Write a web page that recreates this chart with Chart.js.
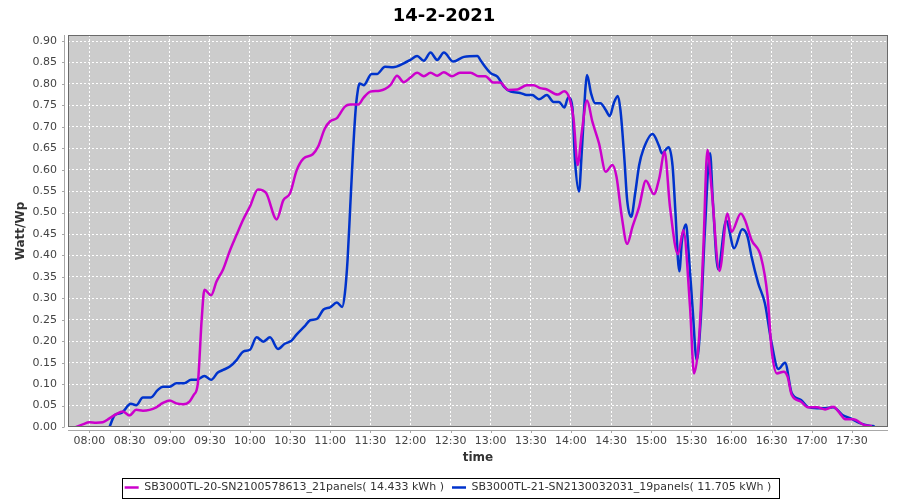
<!DOCTYPE html>
<html>
<head>
<meta charset="utf-8">
<script src="https://cdn.jsdelivr.net/npm/chart.js@4.4.1/dist/chart.umd.min.js"></script>
<style>
  html, body { margin: 0; padding: 0; background: #fff; }
  #wrap { width: 900px; height: 500px; }
</style>
</head>
<body>
<div id="wrap"><canvas id="powerChart" width="900" height="500"></canvas></div>
<script>
const chartTitle = '14-2-2021';
const yTitle = 'Watt/Wp';
const xTitle = 'time';
const xTickTimes = ['08:00', '08:30', '09:00', '09:30', '10:00', '10:30', '11:00', '11:30', '12:00', '12:30',
    '13:00', '13:30', '14:00', '14:30', '15:00', '15:30', '16:00', '16:30', '17:00', '17:30'];

const label20 = 'SB3000TL-20-SN2100578613_21panels( 14.433 kWh )';
const label21 = 'SB3000TL-21-SN2130032031_19panels( 11.705 kWh )';

const times20 = ['07:50', '07:55', '08:00', '08:05', '08:10', '08:15', '08:20', '08:25', '08:30', '08:35',
    '08:40', '08:45', '08:50', '08:55', '09:00', '09:05', '09:10', '09:15', '09:18', '09:21',
    '09:24', '09:26', '09:31', '09:35', '09:40', '09:45', '09:50', '09:55', '10:00', '10:06',
    '10:12', '10:20', '10:25', '10:30', '10:35', '10:40', '10:47', '10:51', '10:56', '11:00',
    '11:05', '11:11', '11:15', '11:21', '11:25', '11:30', '11:37', '11:45', '11:50', '11:55',
    '12:00', '12:05', '12:10', '12:15', '12:20', '12:25', '12:31', '12:37', '12:45', '12:51',
    '12:56', '13:02', '13:07', '13:13', '13:20', '13:27', '13:32', '13:37', '13:42', '13:50',
    '13:55', '13:59', '14:02', '14:05', '14:08', '14:12', '14:16', '14:21', '14:26', '14:31',
    '14:34', '14:38', '14:42', '14:46', '14:51', '14:56', '15:02', '15:06', '15:10', '15:14',
    '15:20', '15:24', '15:29', '15:32', '15:36', '15:39', '15:42', '15:45', '15:51', '15:57',
    '16:00', '16:07', '16:10', '16:15', '16:22', '16:27', '16:30', '16:34', '16:39', '16:42',
    '16:45', '16:52', '16:57', '17:04', '17:10', '17:16', '17:21', '17:25', '17:31', '17:39',
    '17:45'];
const watt20 = [0.000, 0.006, 0.011, 0.010, 0.011, 0.020, 0.030, 0.036, 0.027, 0.040,
    0.038, 0.040, 0.046, 0.056, 0.062, 0.055, 0.053, 0.060, 0.075, 0.100,
    0.254, 0.320, 0.307, 0.339, 0.368, 0.411, 0.448, 0.484, 0.514, 0.554,
    0.546, 0.484, 0.529, 0.545, 0.599, 0.626, 0.636, 0.654, 0.696, 0.713,
    0.720, 0.747, 0.752, 0.752, 0.768, 0.782, 0.784, 0.797, 0.819, 0.804,
    0.815, 0.826, 0.818, 0.826, 0.819, 0.827, 0.818, 0.826, 0.826, 0.818,
    0.818, 0.803, 0.803, 0.786, 0.787, 0.797, 0.797, 0.790, 0.787, 0.775,
    0.783, 0.765, 0.716, 0.611, 0.685, 0.761, 0.712, 0.661, 0.595, 0.611,
    0.584, 0.490, 0.427, 0.467, 0.514, 0.574, 0.543, 0.580, 0.642, 0.514,
    0.403, 0.459, 0.280, 0.125, 0.218, 0.420, 0.646, 0.560, 0.364, 0.498,
    0.455, 0.498, 0.483, 0.436, 0.397, 0.304, 0.180, 0.125, 0.129, 0.117,
    0.075, 0.059, 0.046, 0.046, 0.041, 0.047, 0.032, 0.018, 0.018, 0.005,
    0.002];

const times21 = ['08:15', '08:19', '08:24', '08:31', '08:35', '08:40', '08:46', '08:51', '08:55', '09:00',
    '09:05', '09:11', '09:16', '09:20', '09:26', '09:31', '09:36', '09:40', '09:45', '09:50',
    '09:55', '10:00', '10:05', '10:10', '10:15', '10:21', '10:26', '10:31', '10:35', '10:41',
    '10:45', '10:50', '10:55', '11:00', '11:05', '11:09', '11:11', '11:13', '11:15', '11:17',
    '11:19', '11:20', '11:22', '11:25', '11:31', '11:35', '11:41', '11:47', '11:55', '12:00',
    '12:05', '12:10', '12:15', '12:20', '12:25', '12:32', '12:40', '12:50', '12:53', '13:00',
    '13:05', '13:10', '13:15', '13:22', '13:27', '13:31', '13:36', '13:42', '13:47', '13:51',
    '13:55', '13:58', '14:01', '14:03', '14:06', '14:08', '14:11', '14:12', '14:15', '14:18',
    '14:22', '14:26', '14:29', '14:32', '14:35', '14:37', '14:40', '14:42', '14:45', '14:48',
    '14:51', '14:54', '15:01', '15:06', '15:08', '15:13', '15:16', '15:18', '15:21', '15:23',
    '15:26', '15:28', '15:31', '15:34', '15:37', '15:40', '15:44', '15:46', '15:50', '15:56',
    '16:02', '16:08', '16:12', '16:15', '16:20', '16:25', '16:30', '16:35', '16:40', '16:45',
    '16:52', '16:57', '17:04', '17:10', '17:16', '17:23', '17:29', '17:36', '17:43', '17:47'];
const watt21 = [0.000, 0.028, 0.033, 0.054, 0.051, 0.069, 0.069, 0.086, 0.094, 0.094,
    0.102, 0.102, 0.110, 0.110, 0.119, 0.110, 0.127, 0.133, 0.141, 0.156,
    0.176, 0.180, 0.209, 0.199, 0.209, 0.182, 0.194, 0.201, 0.216, 0.235,
    0.249, 0.252, 0.274, 0.279, 0.290, 0.280, 0.312, 0.390, 0.514, 0.638,
    0.739, 0.770, 0.801, 0.797, 0.823, 0.823, 0.840, 0.839, 0.848, 0.856,
    0.865, 0.854, 0.873, 0.856, 0.873, 0.852, 0.863, 0.865, 0.852, 0.825,
    0.817, 0.793, 0.782, 0.779, 0.774, 0.774, 0.764, 0.774, 0.758, 0.758,
    0.745, 0.768, 0.747, 0.622, 0.549, 0.638, 0.797, 0.821, 0.778, 0.755,
    0.755, 0.739, 0.725, 0.755, 0.772, 0.739, 0.622, 0.529, 0.490, 0.545,
    0.611, 0.646, 0.683, 0.654, 0.638, 0.652, 0.607, 0.506, 0.363, 0.436,
    0.472, 0.405, 0.273, 0.156, 0.250, 0.452, 0.638, 0.530, 0.368, 0.481,
    0.417, 0.461, 0.444, 0.397, 0.335, 0.288, 0.195, 0.135, 0.150, 0.079,
    0.063, 0.047, 0.044, 0.044, 0.046, 0.028, 0.020, 0.009, 0.003, 0.002];

const toMin = s => { const [h, m] = s.split(':').map(Number); return h * 60 + m; };
const toHHMM = v => String(Math.floor(v / 60)).padStart(2, '0') + ':' + String(v % 60).padStart(2, '0');
const pairs = (ts, vs) => ts.map((t, i) => ({ x: toMin(t), y: vs[i] }));

const FONT = 'DejaVu Sans';
const LEG_DX = 4, LEG_DY = 3;

// grey plot area, frame and offset axis lines like the original
const plotFrame = {
    id: 'plotFrame',
    afterLayout(chart) {
        // legend sits a little lower and to the right in the original
        chart.legend.top += LEG_DY;
        chart.legend.bottom += LEG_DY;
        chart.legend.left += LEG_DX;
        chart.legend.right += LEG_DX;
    },
    beforeDraw(chart) {
        const { ctx, chartArea: a } = chart;
        ctx.save();
        ctx.fillStyle = '#cccccc';
        ctx.fillRect(a.left, a.top, a.right - a.left, a.bottom - a.top);
        ctx.restore();
    },
    afterDraw(chart) {
        const { ctx, chartArea: a, scales } = chart;
        ctx.save();
        ctx.lineWidth = 1;
        ctx.strokeStyle = '#6a6a6a';
        ctx.strokeRect(a.left + 0.5, a.top + 0.5, a.right - a.left - 1, a.bottom - a.top - 1);

        ctx.strokeStyle = '#a8a8a8';
        ctx.beginPath();
        ctx.moveTo(a.left - 3.5, a.top);
        ctx.lineTo(a.left - 3.5, a.bottom);
        scales.y.ticks.forEach(t => {
            const y = Math.round(scales.y.getPixelForValue(t.value)) + 0.5;
            ctx.moveTo(a.left - 6, y);
            ctx.lineTo(a.left - 3.5, y);
        });
        ctx.moveTo(a.left, a.bottom + 3.5);
        ctx.lineTo(a.right, a.bottom + 3.5);
        scales.x.ticks.forEach(t => {
            const x = Math.round(scales.x.getPixelForValue(t.value)) + 0.5;
            ctx.moveTo(x, a.bottom + 3.5);
            ctx.lineTo(x, a.bottom + 6);
        });
        ctx.stroke();

        // box round the legend (hit boxes already follow the shifted legend)
        const lg = chart.legend;
        const boxes = lg.legendHitBoxes;
        if (boxes && boxes.length) {
            const last = boxes[boxes.length - 1];
            const l = boxes[0].left - 3, r = last.left + last.width + 7;
            const mid = lg.top + lg.options.labels.padding + boxes[0].height / 2;
            ctx.strokeStyle = '#000';
            ctx.strokeRect(Math.round(l) + 0.5, Math.round(mid - 10) + 0.5, Math.round(r - l), 20);
        }
        ctx.restore();
    }
};

new Chart(document.getElementById('powerChart'), {
    type: 'line',
    data: {
        datasets: [{
            label: label20,
            data: pairs(times20, watt20),
            borderColor: '#cc00cc',
            backgroundColor: '#cc00cc',
            borderWidth: 2.5,
            pointRadius: 0,
            cubicInterpolationMode: 'monotone'
        }, {
            label: label21,
            data: pairs(times21, watt21),
            borderColor: '#0033cc',
            backgroundColor: '#0033cc',
            borderWidth: 2.5,
            pointRadius: 0,
            cubicInterpolationMode: 'monotone'
        }]
    },
    options: {
        responsive: false,
        animation: false,
        layout: { padding: { left: 0, right: 12, top: 0, bottom: 0 } },
        plugins: {
            title: {
                display: true,
                text: chartTitle,
                color: '#000',
                font: { family: FONT, size: 18, weight: 'bold' },
                padding: { top: 6, bottom: 7.4 }
            },
            legend: {
                position: 'bottom',
                labels: {
                    usePointStyle: true,
                    pointStyle: 'line',
                    pointStyleWidth: 14,
                    padding: 8,
                    color: '#333',
                    font: { family: FONT, size: 11 }
                }
            },
            tooltip: { enabled: false }
        },
        scales: {
            x: {
                type: 'linear',
                min: 464,
                max: 1077,
                afterBuildTicks: scale => { scale.ticks = xTickTimes.map(t => ({ value: toMin(t) })); },
                afterFit: scale => { scale.height = 44; },
                ticks: {
                    callback: v => toHHMM(v),
                    color: '#444',
                    padding: 8,
                    maxRotation: 0,
                    autoSkip: false,
                    font: { family: FONT, size: 11 }
                },
                grid: { color: '#ffffff', lineWidth: 1, drawTicks: false },
                border: { display: false, dash: [2, 2] },
                title: {
                    display: true,
                    text: xTitle,
                    color: '#333',
                    font: { family: FONT, size: 12, weight: 'bold' },
                    padding: { top: 0, bottom: 6 }
                }
            },
            y: {
                min: 0,
                max: 0.914,
                afterFit: scale => { scale.width = 68; },
                ticks: {
                    stepSize: 0.05,
                    includeBounds: false,
                    callback: v => v.toFixed(2),
                    color: '#444',
                    padding: 11,
                    font: { family: FONT, size: 11 }
                },
                grid: { color: '#ffffff', lineWidth: 1, drawTicks: false },
                border: { display: false, dash: [2, 2] },
                title: {
                    display: true,
                    text: yTitle,
                    color: '#333',
                    font: { family: FONT, size: 12, weight: 'bold' },
                    padding: { top: 14, bottom: 0 }
                }
            }
        }
    },
    plugins: [plotFrame]
});
</script>
</body>
</html>
